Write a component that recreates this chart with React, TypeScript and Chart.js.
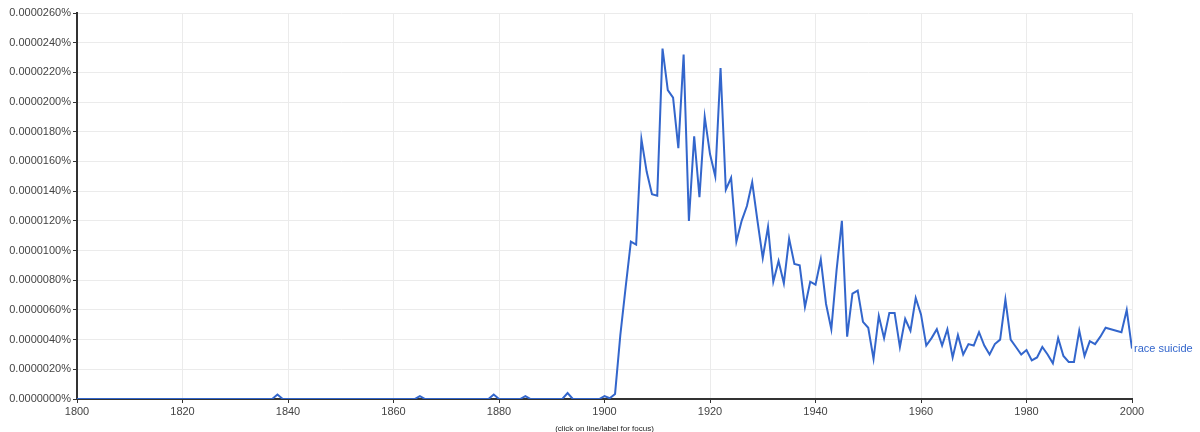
import React, { useEffect, useRef } from "react";
import { Chart, registerables } from "chart.js";

Chart.register(...registerables);

// Values in units of 0.0000001 % (1e-7 percent), one per year from START_YEAR
const START_YEAR = 1800;
const END_YEAR = 2000;
const SERIES_LABEL = "race suicide";
const FOOTER_TEXT = "(click on line/label for focus)";

const VALUES: number[] = [
  // 1800s
  0, 0, 0, 0, 0, 0, 0, 0, 0, 0,
  // 1810s
  0, 0, 0, 0, 0, 0, 0, 0, 0, 0,
  // 1820s
  0, 0, 0, 0, 0, 0, 0, 0, 0, 0,
  // 1830s
  0, 0, 0, 0, 0, 0, 0, 0, 3, 0,
  // 1840s
  0, 0, 0, 0, 0, 0, 0, 0, 0, 0,
  // 1850s
  0, 0, 0, 0, 0, 0, 0, 0, 0, 0,
  // 1860s
  0, 0, 0, 0, 0, 2, 0, 0, 0, 0,
  // 1870s
  0, 0, 0, 0, 0, 0, 0, 0, 0, 3,
  // 1880s
  0, 0, 0, 0, 0, 2, 0, 0, 0, 0,
  // 1890s
  0, 0, 0, 4, 0, 0, 0, 0, 0, 0,
  // 1900s
  2, 0.5, 3.4, 43, 75, 106, 104, 175, 153, 138,
  // 1910s
  137, 236, 208, 203, 169, 232, 120, 177, 136, 190,
  // 1920s
  165, 150, 223, 141, 149, 106, 120, 130, 146, 120,
  // 1930s
  95, 116, 79, 93, 78, 108, 91, 90, 62, 79,
  // 1940s
  77, 94, 64, 47, 87, 120, 42, 71, 73, 52,
  // 1950s
  48, 27, 56, 41, 58, 58, 35, 54, 46, 68,
  // 1960s
  57, 36, 41, 47, 36, 47, 28, 43, 30, 37,
  // 1970s
  36, 45, 36, 30, 37, 40, 67, 40, 35, 30,
  // 1980s
  33, 26, 28, 35, 30, 24, 41, 29, 25, 25,
  // 1990s
  46, 29, 39, 37, 42, 48, 47, 46, 45, 60,
  // 2000
  34,
];

const Y_MIN = 0;
const Y_MAX = 260;
const Y_STEP = 20;
const X_STEP = 20;

const FONT = "Arial, 'Liberation Sans', sans-serif";
const LINE_COLOR = "#3366CC";

const formatPercent = (v: number) => (v / 1e7).toFixed(7) + "%";

const labelPlugin = {
  id: "ngramLabels",
  afterDatasetsDraw(chart: any) {
    const { ctx, scales, chartArea } = chart;
    const xs = scales.x;
    const ys = scales.y;
    const lastVal = VALUES[VALUES.length - 1];
    const lx = xs.getPixelForValue(END_YEAR) + 2;
    const ly = ys.getPixelForValue(lastVal);
    ctx.save();
    ctx.font = `11px ${FONT}`;
    ctx.fillStyle = LINE_COLOR;
    ctx.textAlign = "left";
    ctx.textBaseline = "middle";
    ctx.fillText(SERIES_LABEL, lx, ly);
    ctx.font = `8px ${FONT}`;
    ctx.fillStyle = "#222";
    ctx.textAlign = "center";
    ctx.textBaseline = "alphabetic";
    ctx.fillText(FOOTER_TEXT, (chartArea.left + chartArea.right) / 2, 431);
    ctx.restore();
  },
};

export default function App() {
  const canvasRef = useRef<HTMLCanvasElement | null>(null);

  useEffect(() => {
    if (!canvasRef.current) return;
    const points = VALUES.map((v, i) => ({ x: START_YEAR + i, y: v }));
    const chart = new Chart(canvasRef.current, {
      type: "line",
      data: {
        datasets: [
          {
            label: SERIES_LABEL,
            data: points,
            borderColor: LINE_COLOR,
            borderWidth: 2,
            pointRadius: 0,
            tension: 0,
            fill: false,
          },
        ],
      },
      options: {
        animation: false,
        responsive: true,
        maintainAspectRatio: false,
        layout: { padding: { left: 0, right: 68, top: 13, bottom: 0 } },
        plugins: {
          legend: { display: false },
          tooltip: { enabled: false },
          title: { display: false },
        },
        scales: {
          x: {
            type: "linear",
            min: START_YEAR,
            max: END_YEAR,
            afterFit: (scale: any) => {
              scale.height = 33;
            },
            ticks: {
              stepSize: X_STEP,
              color: "#444",
              font: { family: FONT, size: 11 },
              padding: 2,
              maxRotation: 0,
              callback: (v: any) => String(v),
            },
            grid: {
              color: "#ebebeb",
              tickColor: "#333",
              tickLength: 4,
              tickWidth: 1,
              drawTicks: true,
            },
            border: { color: "#333", width: 2 },
          },
          y: {
            type: "linear",
            min: Y_MIN,
            max: Y_MAX,
            afterFit: (scale: any) => {
              scale.width = 77;
            },
            ticks: {
              stepSize: Y_STEP,
              color: "#444",
              font: { family: FONT, size: 11 },
              padding: 2,
              callback: (v: any) => formatPercent(Number(v)),
            },
            grid: {
              color: "#ebebeb",
              tickColor: "#333",
              tickLength: 4,
              tickWidth: 1,
              drawTicks: true,
            },
            border: { color: "#333", width: 2 },
          },
        },
      },
      plugins: [labelPlugin],
    });
    return () => chart.destroy();
  }, []);

  return (
    <div
      style={{
        position: "fixed",
        left: 0,
        top: 0,
        width: 1200,
        height: 432,
        background: "#fff",
      }}
    >
      <canvas ref={canvasRef} />
    </div>
  );
}
